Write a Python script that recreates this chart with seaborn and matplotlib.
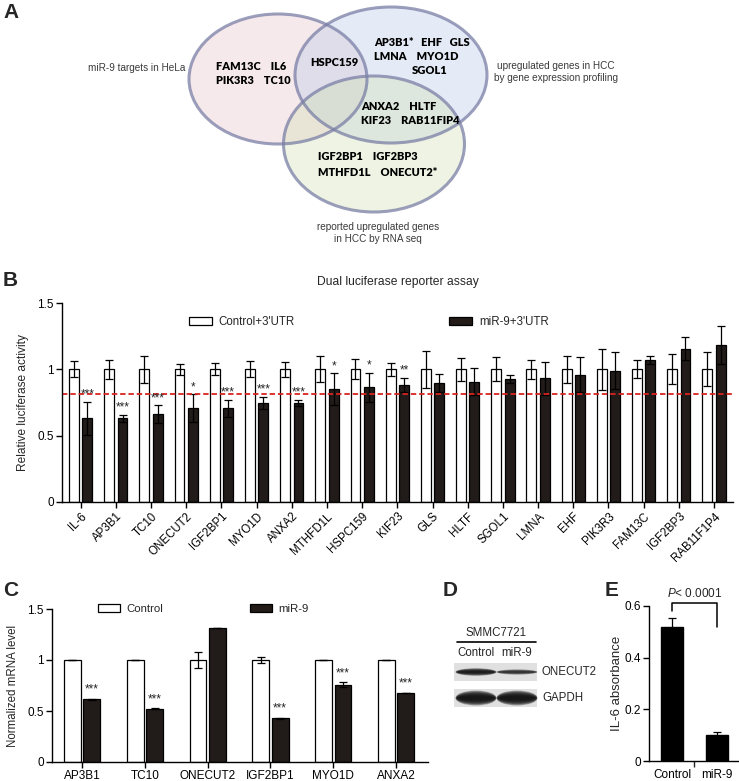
import numpy as np
import pandas as pd
import matplotlib
matplotlib.use("Agg")
import matplotlib.pyplot as plt
from matplotlib.patches import Ellipse, Rectangle, Patch
import seaborn as sns

# ─────────────────────────────────────────────
#  Data
# ─────────────────────────────────────────────
# B: dual luciferase reporter assay
genes_b = ["IL-6", "AP3B1", "TC10", "ONECUT2", "IGF2BP1", "MYO1D", "ANXA2",
           "MTHFD1L", "HSPC159", "KIF23", "GLS", "HLTF", "SGOL1", "LMNA",
           "EHF", "PIK3R3", "FAM13C", "IGF2BP3", "RAB11F1P4"]
ctrl_b     = [1.0, 1.0, 1.0, 1.0, 1.0, 1.0, 1.0, 1.0, 1.0, 1.0,
              1.0, 1.0, 1.0, 1.0, 1.0, 1.0, 1.0, 1.0, 1.0]
ctrl_err_b = [0.06, 0.07, 0.10, 0.04, 0.045, 0.06, 0.056, 0.097, 0.076, 0.05,
              0.14, 0.087, 0.09, 0.074, 0.10, 0.157, 0.069, 0.114, 0.127]
mir_b      = [0.63, 0.63, 0.663, 0.706, 0.706, 0.746, 0.746, 0.85, 0.865, 0.882,
              0.897, 0.907, 0.928, 0.933, 0.96, 0.991, 1.071, 1.157, 1.185]
mir_err_b  = [0.124, 0.028, 0.066, 0.106, 0.063, 0.048, 0.025, 0.12, 0.11, 0.055,
              0.07, 0.10, 0.03, 0.126, 0.134, 0.136, 0.03, 0.09, 0.144]
stars_b    = ["***", "***", "***", "*", "***", "***", "***", "*", "*", "**",
              "", "", "", "", "", "", "", "", ""]
cutoff_b = 0.814
groups_b = ["Control+3'UTR", "miR-9+3'UTR"]

# C: qPCR
genes_c    = ["AP3B1", "TC10", "ONECUT2", "IGF2BP1", "MYO1D", "ANXA2"]
ctrl_c     = [1.0, 1.0, 1.0, 1.0, 1.0, 1.0]
ctrl_err_c = [0.0, 0.0, 0.08, 0.03, 0.0, 0.0]
mir_c      = [0.614, 0.523, 1.31, 0.431, 0.758, 0.676]
mir_err_c  = [0.008, 0.005, 0.0, 0.005, 0.025, 0.004]
stars_c    = ["***", "***", "", "***", "***", "***"]
groups_c = ["Control", "miR-9"]

# D: western blot (relative band strength)
blot_lanes  = ["Control", "miR-9"]
blot_onecut = [0.85, 0.6]
blot_gapdh  = [1.0, 1.0]

# E: IL-6 ELISA
groups_e  = ["Control", "miR-9"]
il6_e     = [0.519, 0.101]
il6_err_e = [0.035, 0.01]

# A: Venn
venn_titles = ["miR-9 targets in HeLa",
               "upregulated genes in HCC\nby gene expression profiling",
               "reported upregulated genes\nin HCC by RNA seq"]

DARK = "#221b18"

# ─────────────────────────────────────────────
#  Figure helpers (pixel layout)
# ─────────────────────────────────────────────
sns.set_style("ticks")
plt.rcParams["font.family"] = ["Liberation Sans", "DejaVu Sans"]
plt.rcParams["mathtext.fontset"] = "custom"
plt.rcParams["mathtext.it"] = "Liberation Sans:italic"
plt.rcParams["mathtext.rm"] = "Liberation Sans"

W, H = 739, 781
fig = plt.figure(figsize=(W / 100, H / 100), dpi=100)


def px_axes(x0, y0, x1, y1):
    return fig.add_axes([x0 / W, 1 - y1 / H, (x1 - x0) / W, (y1 - y0) / H])


def px_text(x, y, s, **kw):
    fig.text(x / W, 1 - y / H, s, **kw)


def style_axis(ax):
    sns.despine(ax=ax)
    for sp in ("left", "bottom"):
        ax.spines[sp].set_linewidth(1.0)
        ax.spines[sp].set_color("black")
    ax.tick_params(axis="both", direction="out", length=4, width=1.0,
                   colors="black", labelsize=8.5, pad=2)


def long_df(genes, a, b, groups):
    return pd.DataFrame({"gene": genes * 2,
                         "value": list(a) + list(b),
                         "group": [groups[0]] * len(genes) + [groups[1]] * len(genes)})


# ─────────────────────────────────────────────
#  A: Venn diagram
# ─────────────────────────────────────────────
ax_a = px_axes(0, 0, W, 262)
ax_a.set_xlim(0, W)
ax_a.set_ylim(262, 0)
ax_a.axis("off")
venn_shapes = [((278, 79), 178, 130, "#e7c3c9"),
               ((391, 75), 192, 136, "#b8c8e8"),
               ((374, 144), 181, 136, "#d1e0b2")]
for (c, w, h, col) in venn_shapes:
    ax_a.add_patch(Ellipse(c, w, h, facecolor=col, alpha=0.36, edgecolor="none"))
for (c, w, h, col) in venn_shapes:
    ax_a.add_patch(Ellipse(c, w, h, facecolor="none", edgecolor="#7a7fa6",
                           lw=2.2, alpha=0.75))

lab_kw = dict(fontsize=7.2, color="#3a3a3a", linespacing=1.2)
ax_a.text(137, 68, venn_titles[0], ha="center", va="center", **lab_kw)
ax_a.text(556, 72, venn_titles[1], ha="center", va="center", **lab_kw)
ax_a.text(378, 233, venn_titles[2], ha="center", va="center", **lab_kw)

gene_kw = dict(fontsize=7.9, fontweight="heavy", family="Lato", color="black",
               ha="left", va="center")
venn_genes = [(216, 66, "FAM13C    IL6"), (216, 80, "PIK3R3    TC10"),
              (310, 63, "HSPC159"),
              (374, 43, "AP3B1*   EHF   GLS"), (374, 57, "LMNA    MYO1D"),
              (412, 71, "SGOL1"),
              (361, 107, "ANXA2    HLTF"), (361, 121, "KIF23    RAB11FIP4"),
              (318, 157, "IGF2BP1    IGF2BP3"), (318, 172, "MTHFD1L    ONECUT2*")]
for x, y, s in venn_genes:
    ax_a.text(x, y, s, **gene_kw)

# ─────────────────────────────────────────────
#  B: luciferase
# ─────────────────────────────────────────────
ax_b = px_axes(62, 303, 733, 502)
df_b = long_df(genes_b, ctrl_b, mir_b, groups_b)
sns.barplot(data=df_b, x="gene", y="value", hue="group", order=genes_b,
            hue_order=groups_b, palette={groups_b[0]: "white", groups_b[1]: DARK},
            edgecolor="black", linewidth=0.9, width=0.76, gap=0.26,
            errorbar=None, legend=False, ax=ax_b)
xb = np.arange(len(genes_b))
off_b = 0.19
err_kw = dict(fmt="none", ecolor="black", elinewidth=0.9, capsize=2.6, capthick=0.9)
ax_b.errorbar(xb - off_b, ctrl_b, yerr=ctrl_err_b, **err_kw)
ax_b.errorbar(xb + off_b, mir_b, yerr=mir_err_b, **err_kw)
for i, s in enumerate(stars_b):
    if s:
        ax_b.text(xb[i] + off_b, mir_b[i] + mir_err_b[i] + 0.008, s,
                  ha="center", va="bottom", fontsize=8.5)
ax_b.axhline(cutoff_b, color="#d9231f", lw=1.3, ls=(0, (3, 1.6)))
ax_b.set_xlim(-0.53, len(genes_b) - 0.46)
ax_b.set_ylim(0, 1.5)
ax_b.set_yticks([0, 0.5, 1, 1.5])
ax_b.set_yticklabels(["0", "0.5", "1", "1.5"])
style_axis(ax_b)
ax_b.set_xticks(xb)
ax_b.set_xticklabels(genes_b, rotation=45, ha="right", va="top",
                     rotation_mode="anchor", fontsize=8.3)
ax_b.set_xlabel("")
ax_b.set_ylabel("Relative luciferase activity", fontsize=8.6, labelpad=6)
ax_b.set_title("Dual luciferase reporter assay", fontsize=8.7, pad=13)
leg_kw = dict(frameon=False, fontsize=8.3, handlelength=2.0, handleheight=0.6,
              handletextpad=0.6, borderpad=0, borderaxespad=0, loc="center left")
leg1 = ax_b.legend(handles=[Patch(facecolor="white", edgecolor="black", lw=0.9)],
                   labels=[groups_b[0]], bbox_to_anchor=(0.189, 0.905), **leg_kw)
ax_b.add_artist(leg1)
ax_b.legend(handles=[Patch(facecolor=DARK, edgecolor="black", lw=0.9)],
            labels=[groups_b[1]], bbox_to_anchor=(0.577, 0.905), **leg_kw)

# ─────────────────────────────────────────────
#  C: mRNA
# ─────────────────────────────────────────────
ax_c = px_axes(52, 609, 428, 762)
df_c = long_df(genes_c, ctrl_c, mir_c, groups_c)
sns.barplot(data=df_c, x="gene", y="value", hue="group", order=genes_c,
            hue_order=groups_c, palette={groups_c[0]: "white", groups_c[1]: DARK},
            edgecolor="black", linewidth=0.9, width=0.62, gap=0.14,
            errorbar=None, legend=False, ax=ax_c)
xc = np.arange(len(genes_c))
off_c = 0.155
ax_c.errorbar(xc - off_c, ctrl_c, yerr=ctrl_err_c, **err_kw)
ax_c.errorbar(xc + off_c, mir_c, yerr=mir_err_c, **err_kw)
for i, s in enumerate(stars_c):
    if s:
        ax_c.text(xc[i] + off_c, mir_c[i] + mir_err_c[i] + 0.03, s,
                  ha="center", va="bottom", fontsize=8.5)
ax_c.set_xlim(-0.48, len(genes_c) - 0.49)
ax_c.set_ylim(0, 1.5)
ax_c.set_yticks([0, 0.5, 1, 1.5])
ax_c.set_yticklabels(["0", "0.5", "1", "1.5"])
style_axis(ax_c)
ax_c.set_xticks(xc)
ax_c.set_xticklabels(genes_c, fontsize=8.5)
ax_c.set_xlabel("")
ax_c.set_ylabel("Normalized mRNA level", fontsize=8.3, labelpad=6)
leg_kw_c = dict(leg_kw, fontsize=8.2, handlelength=1.9)
leg3 = ax_c.legend(handles=[Patch(facecolor="white", edgecolor="black", lw=0.9)],
                   labels=[groups_c[0]], bbox_to_anchor=(0.122, 1.0), **leg_kw_c)
ax_c.add_artist(leg3)
ax_c.legend(handles=[Patch(facecolor=DARK, edgecolor="black", lw=0.9)],
            labels=[groups_c[1]], bbox_to_anchor=(0.527, 1.0), **leg_kw_c)

# ─────────────────────────────────────────────
#  D: western blot
# ─────────────────────────────────────────────
ax_d = px_axes(440, 610, 600, 720)
ax_d.set_xlim(440, 600)
ax_d.set_ylim(720, 610)
ax_d.axis("off")
ax_d.text(496, 633, "SMMC7721", ha="center", va="center", fontsize=8.3)
ax_d.plot([457, 536], [642, 642], color="black", lw=1.2)
lane_x = [476, 517]
for (y0, y1, yc, hgt, ints, name) in [(663, 681, 672, 9, blot_onecut, "ONECUT2"),
                                      (689, 707, 698, 15, blot_gapdh, "GAPDH")]:
    ax_d.add_patch(Rectangle((454, y0), 83, y1 - y0, facecolor="#e0e0e0",
                             edgecolor="none"))
    for lx, v in zip(lane_x, ints):
        # soft band: stacked translucent ellipses, darkest in the middle
        for k in np.linspace(1.0, 0.25, 9):
            ax_d.add_patch(Ellipse((lx, yc), 41 * (0.88 + 0.12 * k), hgt * k * v,
                                   facecolor="#101010", alpha=0.3 * v,
                                   edgecolor="none"))
    ax_d.text(542, yc, name, ha="left", va="center", fontsize=8.3)
for lx, lane in zip(lane_x, blot_lanes):
    ax_d.text(lx, 653, lane, ha="center", va="center", fontsize=8.3)

# ─────────────────────────────────────────────
#  E: IL-6 absorbance
# ─────────────────────────────────────────────
ax_e = px_axes(649, 606, 738, 761)
sns.barplot(x=groups_e, y=il6_e, color="black", width=0.49, edgecolor="black",
            errorbar=None, ax=ax_e)
ax_e.errorbar([0, 1], il6_e, yerr=il6_err_e, **err_kw)
ax_e.set_xlim(-0.52, 1.48)
ax_e.set_ylim(0, 0.6)
ax_e.set_yticks([0, 0.2, 0.4, 0.6])
ax_e.set_yticklabels(["0", "0.2", "0.4", "0.6"])
style_axis(ax_e)
ax_e.set_xticks([0, 1])
ax_e.set_xticklabels(groups_e, fontsize=8.5)
ax_e.tick_params(axis="x", length=0, pad=6)
ax_e.set_xticks([0.5], minor=True)
ax_e.tick_params(axis="x", which="minor", length=4, width=1.0, bottom=True)
ax_e.set_ylabel("IL-6 absorbance", fontsize=9.5, labelpad=1)
ax_e.plot([0, 0, 1, 1], [0.58, 0.612, 0.612, 0.519], color="black", lw=1.1,
          clip_on=False)
ax_e.text(0.5, 0.65, r"$P$< 0.0001", ha="center", va="center", fontsize=8.5)

# ─────────────────────────────────────────────
#  Panel letters
# ─────────────────────────────────────────────
for x, y, s in [(3, 12, "A"), (3, 281, "B"), (3, 590, "C"), (443, 590, "D"),
                (605, 590, "E")]:
    px_text(x, y, s, fontsize=15, fontweight="bold", ha="left", va="center")

fig.savefig("out.png", dpi=100)
